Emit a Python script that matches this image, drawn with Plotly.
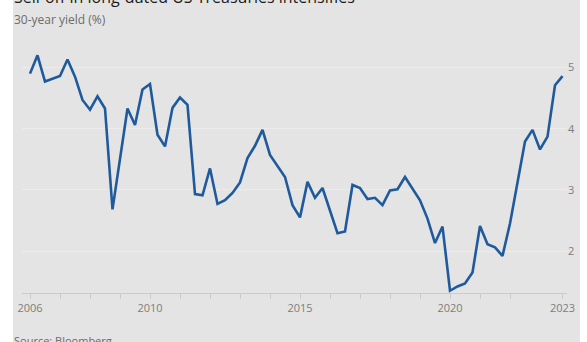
import plotly.graph_objects as go

# Quarterly 30-year US Treasury yield (%), 2006 Q1 .. 2023 Q3
start_year = 2006.0
yields = [
    4.90, 5.20, 4.77, 4.82, 4.86, 5.13, 4.85, 4.47, 4.31, 4.53,
    4.33, 2.68, 3.52, 4.33, 4.06, 4.64, 4.73, 3.90, 3.71, 4.34,
    4.51, 4.39, 2.93, 2.91, 3.35, 2.77, 2.83, 2.95, 3.12, 3.52,
    3.72, 3.98, 3.57, 3.38, 3.21, 2.75, 2.55, 3.13, 2.87, 3.03,
    2.66, 2.29, 2.32, 3.08, 3.03, 2.85, 2.87, 2.75, 2.99, 3.01,
    3.21, 3.03, 2.83, 2.53, 2.13, 2.40, 1.35, 1.42, 1.47, 1.65,
    2.41, 2.11, 2.06, 1.92, 2.45, 3.12, 3.79, 3.98, 3.66, 3.87,
    4.71, 4.86,
]
dates = [start_year + 0.25 * i for i in range(len(yields))]

tick_years = list(range(2006, 2023)) + [dates[-1]]
tick_labels = ["2006" if y == 2006 else "2010" if y == 2010 else "2015" if y == 2015
               else "2020" if y == 2020 else "" for y in range(2006, 2023)] + ["2023"]
y_ticks = [2, 3, 4, 5]

title = "Sell-off in long-dated US Treasuries intensifies"
subtitle = "30-year yield (%)"
source = "Source: Bloomberg"

W, H = 587, 342
L, R, T, B = 22, 20, 40, 49
PW, PH = W - L - R, H - T - B
FONT = "Open Sans"


def px_x(px):
    return (px - L) / PW


def px_y(py):
    return (H - B - py) / PH


fig = go.Figure()
fig.add_trace(go.Scatter(
    x=dates, y=yields, mode="lines",
    line=dict(color="#1f5a9c", width=2.6),
    hoverinfo="skip", showlegend=False,
))

fig.update_layout(
    width=W, height=H,
    margin=dict(l=L, r=R, t=T, b=B, autoexpand=False),
    paper_bgcolor="white",
    plot_bgcolor="rgba(0,0,0,0)",
    font=dict(family=FONT, color="#7a7a7a", size=11),
    xaxis=dict(
        range=[2006 + (22 - 30) / 30, 2006 + (567 - 30) / 30],
        tickvals=tick_years, ticktext=tick_labels,
        showgrid=False, zeroline=False,
        showline=True, linecolor="#cbcbcb", linewidth=1,
        ticks="outside", ticklen=5, tickcolor="#cbcbcb", tickwidth=1,
        tickfont=dict(size=11, color="#7d7d7d"),
        fixedrange=True, automargin=False,
    ),
    yaxis=dict(
        range=[1.3134, 5.4496],
        tickvals=y_ticks, side="right",
        showgrid=True, gridcolor="#ececec", gridwidth=1,
        zeroline=False, showline=False, ticks="",
        tickfont=dict(size=11, color="#7d7d7d"),
        fixedrange=True, automargin=False,
    ),
    shapes=[dict(
        type="rect", xref="paper", yref="paper", layer="below",
        x0=px_x(13), x1=px_x(580), y0=px_y(400), y1=px_y(-60),
        fillcolor="#e4e4e4", line=dict(width=0),
    )],
    annotations=[
        dict(text=title, xref="paper", yref="paper", x=px_x(12), y=px_y(-3),
             xanchor="left", yanchor="middle", showarrow=False,
             font=dict(size=16, color="#1a1a1a", family=FONT)),
        dict(text=subtitle, xref="paper", yref="paper", x=px_x(12), y=px_y(19.5),
             xanchor="left", yanchor="middle", showarrow=False,
             font=dict(size=12, color="#6b6b6b", family=FONT)),
        dict(text=source, xref="paper", yref="paper", x=px_x(12), y=px_y(340),
             xanchor="left", yanchor="middle", showarrow=False,
             font=dict(size=11, color="#6b6b6b", family=FONT)),
    ],
)

fig.write_html(
    "out.html",
    config={"displayModeBar": False},
    post_script="document.body.style.margin='0';document.body.style.overflow='hidden';",
)
